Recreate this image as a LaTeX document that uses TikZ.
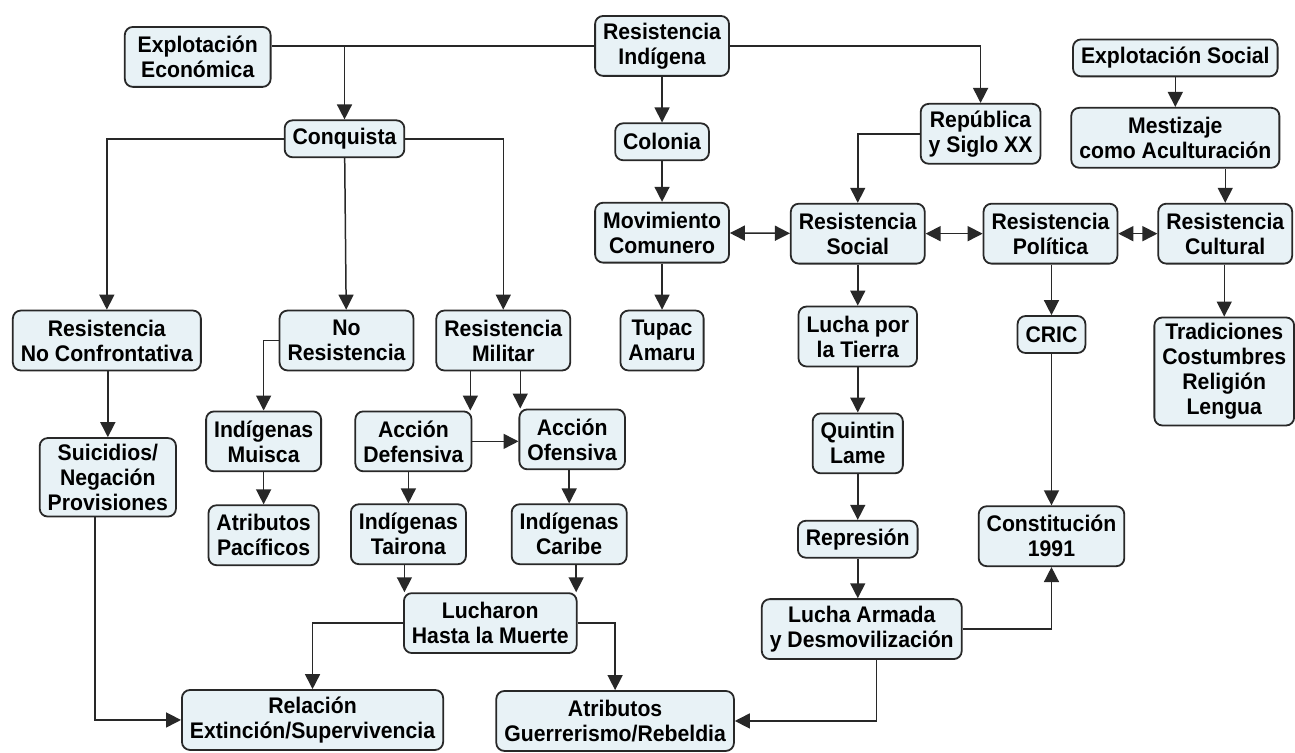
\documentclass[tikz,border=0pt]{standalone}
\usepackage{fontspec}
\setmainfont{Liberation Sans}[FakeStretch=0.94]
\usepackage{tikz}
\usetikzlibrary{arrows.meta}
\definecolor{fondo}{RGB}{232,242,246}
\definecolor{borde}{RGB}{40,40,40}

\begin{document}
\begin{tikzpicture}[
    x=0.5pt, y=-0.5pt,
    caja/.style={
    draw=borde,
    rounded corners=4pt,
    line width=0.9pt,
    fill=fondo,
    align=center,
    inner xsep=4pt,
    inner ysep=3pt,
    minimum height=30pt,
    font=\bfseries\fontsize{11.3}{12.5}\selectfont
    },
    uno/.style={minimum height=18.5pt},
    flecha/.style={-{Triangle[length=7.5pt,width=7.5pt]},line width=0.75pt,draw=borde},
    doble/.style={{Triangle[length=7.5pt,width=7.5pt]}-{Triangle[length=7.5pt,width=7.5pt]},line width=0.75pt,draw=borde},
    linea/.style={line width=0.75pt,draw=borde}
    ]

    \fill[white] (0,0) rectangle (1295,754);

    % fila superior
    \node[caja, minimum width=73pt] (expeco) at (198,57)
    {Explotación\\Económica};
    \node[caja] (resind) at (663,46)
    {Resistencia\\Indígena};
    \node[caja, uno] (expsoc) at (1177,58)
    {Explotación Social};
    \node[caja, uno] (conq) at (345,139)
    {Conquista};
    \node[caja, uno] (colonia) at (663,142)
    {Colonia};
    \node[caja] (repub) at (982,134)
    {República\\y Siglo XX};
    \node[caja] (mestiz) at (1177,138)
    {Mestizaje\\como Aculturación};

    % resistencias
    \node[caja] (movcom) at (663,233)
    {Movimiento\\Comunero};
    \node[caja] (ressoc) at (859,234)
    {Resistencia\\Social};
    \node[caja] (respol) at (1052,234)
    {Resistencia\\Política};
    \node[caja] (rescul) at (1227,234)
    {Resistencia\\Cultural};

    \node[caja] (resnoc) at (107,341)
    {Resistencia\\No Confrontativa};
    \node[caja] (nores) at (347,341)
    {No\\Resistencia};
    \node[caja] (resmil) at (504,341)
    {Resistencia\\Militar};
    \node[caja] (tupac) at (663,341)
    {Tupac\\Amaru};
    \node[caja] (lucha) at (859,337)
    {Lucha por\\la Tierra};
    \node[caja, uno] (cric) at (1053,335)
    {CRIC};
    \node[caja] (tradic) at (1226,372)
    {Tradiciones\\Costumbres\\Religión\\Lengua};

    \node[caja] (suic) at (108,478)
    {Suicidios/\\Negación\\Provisiones};
    \node[caja] (muisca) at (264,442)
    {Indígenas\\Muisca};
    \node[caja] (adef) at (414,442)
    {Acción\\Defensiva};
    \node[caja] (aofe) at (573,440)
    {Acción\\Ofensiva};
    \node[caja] (quintin) at (859,444)
    {Quintin\\Lame};

    \node[caja] (pacif) at (264,536)
    {Atributos\\Pacíficos};
    \node[caja] (tairona) at (409,535)
    {Indígenas\\Tairona};
    \node[caja] (caribe) at (570,535)
    {Indígenas\\Caribe};
    \node[caja, uno] (repres) at (859,540)
    {Represión};
    \node[caja] (constit) at (1053,537)
    {Constitución\\1991};

    \node[caja] (luchar) at (491,624)
    {Lucharon\\Hasta la Muerte};
    \node[caja] (armada) at (863,630)
    {Lucha Armada\\y Desmovilización};
    \node[caja] (relac) at (313,721)
    {Relación\\Extinción/Supervivencia};
    \node[caja] (guerr) at (616,722)
    {Atributos\\Guerrerismo/Rebeldia};

    % conexiones
    \draw[linea] (resind.west) -- (resind.west -| expeco.east);
    \draw[flecha] (conq |- resind.west) -- (conq);
    \draw[flecha] (resind.east) -| (repub);
    \draw[flecha] (resind) -- (colonia);
    \draw[flecha] (colonia) -- (movcom);
    \draw[flecha] (conq.west) -| (resnoc);
    \draw[flecha] (conq) -- (nores);
    \draw[flecha] (conq.east) -| (resmil);
    \draw[flecha] (repub.west) -| (ressoc);
    \draw[flecha] (expsoc) -- (mestiz);
    \draw[flecha] (rescul |- mestiz.south) -- (rescul);

    \draw[doble] (movcom) -- (ressoc);
    \draw[doble] (ressoc) -- (respol);
    \draw[doble] (respol) -- (rescul);

    \draw[flecha] (movcom) -- (tupac);
    \draw[flecha] (ressoc) -- (lucha);
    \draw[flecha] (respol.south -| cric) -- (cric);
    \draw[flecha] (rescul.south -| tradic) -- (tradic);
    \draw[flecha] (lucha) -- (quintin);
    \draw[flecha] (quintin) -- (repres);
    \draw[flecha] (repres.south) -- (repres.south |- armada.north);
    \draw[flecha] (cric) -- (constit);
    \draw[flecha] (armada.east) -| (constit);
    \draw[flecha] ([xshift=7.5pt]armada.south) |- (guerr);

    \draw[flecha] (resnoc.south -| suic) -- (suic);
    \draw[flecha] (nores.west) -| (muisca);
    \draw[flecha] ([xshift=-16.5pt]resmil.south) -- ([xshift=-16.5pt]resmil.south |- adef.north);
    \draw[flecha] ([xshift=8.5pt]resmil.south) -- ([xshift=8.5pt]resmil.south |- aofe.north);
    \draw[flecha] (adef.east) -- (adef.east -| aofe.west);
    \draw[flecha] (muisca) -- (pacif);
    \draw[flecha] (adef.south -| tairona) -- (tairona);
    \draw[flecha] (aofe.south -| caribe) -- (caribe);
    \draw[flecha] ([xshift=-2pt]tairona.south) -- ([xshift=-2pt]tairona.south |- luchar.north);
    \draw[flecha] ([xshift=3.5pt]caribe.south) -- ([xshift=3.5pt]caribe.south |- luchar.north);
    \draw[flecha] (luchar.west) -| (relac);
    \draw[flecha] (luchar.east) -| (guerr);
    \draw[flecha] ([xshift=-6.5pt]suic.south) |- (relac);

    \end{tikzpicture}
\end{document}
